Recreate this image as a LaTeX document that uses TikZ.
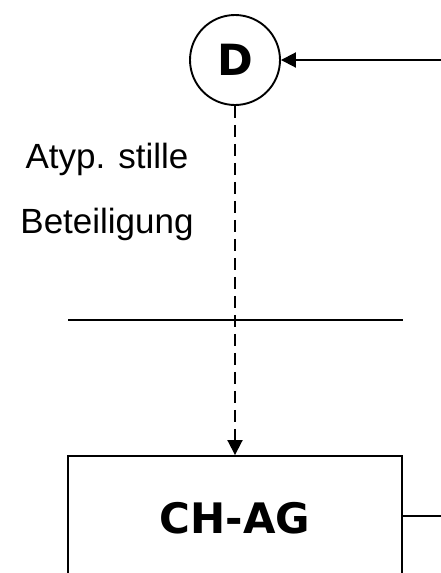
\documentclass[tikz,border=0pt]{standalone}
\usepackage{fontspec}
\setmainfont{Liberation Sans}
\newfontfamily\boldsans{DejaVu Sans Bold}
\usetikzlibrary{arrows.meta}
\tikzset{
  conn/.style={line width=1.9pt, draw=black},
  headarrow/.style={-{Triangle[length=15pt,width=15pt]}},
  labeltext/.style={anchor=base, inner sep=0pt, font=\fontsize{35}{42}\selectfont},
  circ/.style={circle, draw, line width=1.9pt, minimum size=90pt, inner sep=0pt, font=\boldsans\fontsize{43}{50}\selectfont},
  boxnode/.style={rectangle, draw, line width=1.9pt, minimum width=334pt, minimum height=124pt, inner sep=0pt, font=\boldsans\fontsize{42}{50}\selectfont}
}
\begin{document}
\begin{tikzpicture}[x=1pt,y=-1pt]
\useasboundingbox (0,0) rectangle (441,573);
\clip (0,0) rectangle (441,573);
\node[circ] (D) at (235,60) {D};
\node[boxnode] (CH) at (235,518) {CH-AG};
\coordinate (rin) at (441,60);
\coordinate (rout) at (441,516);
\coordinate (hl) at (68,320);
\coordinate (hr) at (403,320);
\node[labeltext] (l1) at (107,168) {Atyp. stille};
\node[labeltext] (l2) at (107,233) {Beteiligung};
\draw[conn, headarrow] (rin) -- (D.east);
\draw[conn, headarrow, dash pattern=on 12pt off 7pt] (D.south) -- (CH.north);
\draw[conn] (hl) -- (hr);
\draw[conn] (CH.east |- rout) -- (rout);
\end{tikzpicture}
\end{document}
